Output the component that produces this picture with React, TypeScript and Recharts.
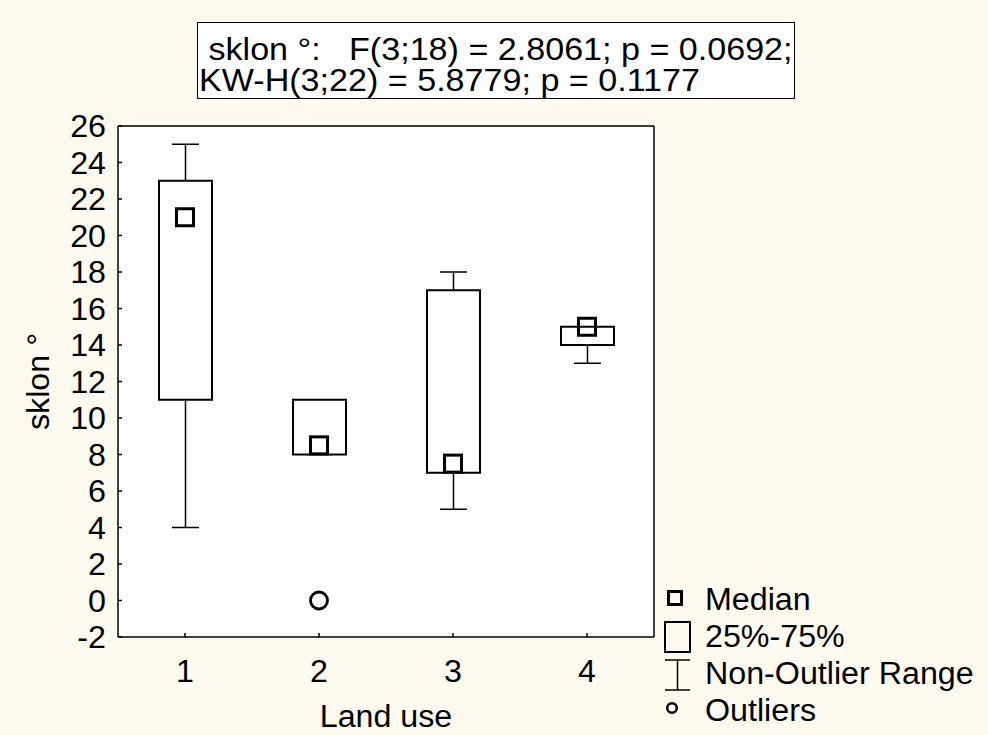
import React from 'react';
import { ComposedChart, Bar, Scatter, XAxis, YAxis, CartesianGrid, Legend } from 'recharts';

const categories = ['1', '2', '3', '4'];
const nonOutlierMin = [4, 8, 5, 13];
const nonOutlierMax = [25, 11, 18, 15];
const q25 = [11, 8, 7, 14];
const q75 = [23, 11, 17, 15];
const medians = [21, 8.5, 7.5, 15];
const outliers: (number | null)[] = [null, 0, null, null];
const yTicks = [-2, 0, 2, 4, 6, 8, 10, 12, 14, 16, 18, 20, 22, 24, 26];
const titleLines = [' sklon °:   F(3;18) = 2.8061; p = 0.0692;', 'KW-H(3;22) = 5.8779; p = 0.1177'];
const legendItems = ['Median', '25%-75%', 'Non-Outlier Range', 'Outliers'];
const xTitle = 'Land use';
const yTitle = 'sklon °';

const data = categories.map((name, i) => ({
  name,
  whisker: [nonOutlierMin[i], nonOutlierMax[i]],
  box: [q25[i], q75[i]],
  median: medians[i],
  outlier: outliers[i],
}));

const FONT = '"Liberation Sans", Arial, sans-serif';
const BG = '#FFFAF0';
const SX = 1.04;
const FS = 31;

const StretchText = ({ x, y, anchor = 'start', dy = 0, size = FS, sx = SX, children }: any) => (
  <text
    transform={`translate(${x} ${y}) scale(${sx} 1)`}
    x={0}
    y={0}
    dy={dy}
    textAnchor={anchor}
    fill="#000"
    fontSize={size}
    fontFamily={FONT}
    style={{ whiteSpace: 'pre' }}
  >
    {children}
  </text>
);

const WhiskerShape = (p: any) => {
  const { x, y, width, height } = p;
  if (x == null || y == null) return <g />;
  const cx = x + width / 2;
  const top = Math.min(y, y + height);
  const bot = Math.max(y, y + height);
  return (
    <g>
      <line x1={cx} x2={cx} y1={top} y2={bot} stroke="#000" strokeWidth={1.5} />
      <line x1={x} x2={x + width} y1={top} y2={top} stroke="#000" strokeWidth={1.5} />
      <line x1={x} x2={x + width} y1={bot} y2={bot} stroke="#000" strokeWidth={1.5} />
    </g>
  );
};

const BoxShape = (p: any) => {
  const { x, y, width, height } = p;
  if (x == null || y == null) return <g />;
  const top = Math.min(y, y + height);
  const h = Math.abs(height);
  return <rect x={x} y={top} width={width} height={h} fill="#fff" stroke="#000" strokeWidth={2} />;
};

const MedianShape = (p: any) => {
  if (p.payload == null || p.payload.median == null || p.cy == null) return <g />;
  return <rect x={p.cx - 8.5} y={p.cy - 8.5} width={17} height={17} fill="none" stroke="#000" strokeWidth={3} />;
};

const OutlierShape = (p: any) => {
  if (p.payload == null || p.payload.outlier == null || p.cy == null) return <g />;
  return <circle cx={p.cx} cy={p.cy} r={8.5} fill="none" stroke="#000" strokeWidth={2.8} />;
};

const XTick = (p: any) => (
  <StretchText x={p.x} y={p.y} anchor="middle" dy="0.71em">
    {p.payload && p.payload.value}
  </StretchText>
);

const YTick = (p: any) => (
  <StretchText x={p.x} y={p.y} anchor="end" dy="0.355em">
    {p.payload && p.payload.value}
  </StretchText>
);

const renderXLabel = (props: any) => {
  const vb = props.viewBox || {};
  return (
    <StretchText x={vb.x + vb.width / 2} y={vb.y + 90} anchor="middle">
      {xTitle}
    </StretchText>
  );
};

const renderYLabel = (props: any) => {
  const vb = props.viewBox || {};
  const cx = vb.x + 38;
  const cy = vb.y + vb.height / 2;
  return (
    <text
      transform={`translate(${cx} ${cy}) rotate(-90) scale(${SX} 1)`}
      x={0}
      y={0}
      textAnchor="middle"
      dominantBaseline="central"
      fill="#000"
      fontSize={FS}
      fontFamily={FONT}
    >
      {yTitle}
    </text>
  );
};

const renderLegend = () => {
  const textX = 50;
  const baselines = [32, 69, 106, 143];
  return (
    <svg width={333} height={160} style={{ display: 'block' }}>
      <rect x={13.5} y={13.5} width={13} height={13} fill="none" stroke="#000" strokeWidth={3} />
      <rect x={10} y={44} width={25} height={30} fill="none" stroke="#000" strokeWidth={2} />
      <line x1={10} x2={35} y1={82} y2={82} stroke="#000" strokeWidth={1.5} />
      <line x1={22.5} x2={22.5} y1={82} y2={112} stroke="#000" strokeWidth={1.5} />
      <line x1={10} x2={35} y1={112} y2={112} stroke="#000" strokeWidth={1.5} />
      <circle cx={17} cy={130} r={4.8} fill="none" stroke="#000" strokeWidth={2.5} />
      {legendItems.map((t, i) => (
        <StretchText key={t} x={textX} y={baselines[i]}>
          {t}
        </StretchText>
      ))}
    </svg>
  );
};

const lineStyle = { stroke: '#000', strokeWidth: 1.5 };

export default function App() {
  return (
    <div style={{ position: 'absolute', left: 0, top: 0, width: 988, height: 735, background: BG, fontFamily: FONT, overflow: 'hidden' }}>
      <ComposedChart width={988} height={735} data={data} margin={{ top: 125, right: 333, bottom: 0, left: 0 }}>
        <CartesianGrid xAxisId="main" yAxisId="left" fill="#fff" stroke="none" horizontal={false} vertical={false} />
        <XAxis xAxisId="main" dataKey="name" height={98} interval={0} tickSize={-4} tickMargin={27} tickLine={lineStyle} axisLine={lineStyle} tick={XTick} label={renderXLabel} />
        <XAxis xAxisId="top" orientation="top" dataKey="name" height={1} interval={0} tickSize={-4} tick={false} tickLine={lineStyle} axisLine={lineStyle} />
        <XAxis xAxisId="whisk" dataKey="name" hide />
        <YAxis yAxisId="left" width={118} type="number" domain={[-2, 26]} ticks={yTicks} interval={0} allowDataOverflow tickSize={-4} tickMargin={16} tickLine={lineStyle} axisLine={lineStyle} tick={YTick} label={renderYLabel} />
        <YAxis yAxisId="right" orientation="right" width={1} type="number" domain={[-2, 26]} ticks={yTicks} interval={0} allowDataOverflow tickSize={-4} tick={false} tickLine={lineStyle} axisLine={lineStyle} />
        <Bar xAxisId="whisk" yAxisId="left" dataKey="whisker" barSize={27} shape={WhiskerShape} isAnimationActive={false} />
        <Bar xAxisId="main" yAxisId="left" dataKey="box" barSize={53} shape={BoxShape} isAnimationActive={false} />
        <Scatter xAxisId="main" yAxisId="left" dataKey="median" shape={MedianShape} isAnimationActive={false} />
        <Scatter xAxisId="main" yAxisId="left" dataKey="outlier" shape={OutlierShape} isAnimationActive={false} />
        <Legend content={renderLegend} layout="horizontal" verticalAlign="middle" align="center" wrapperStyle={{ position: 'absolute', left: 655, top: 578, width: 333, height: 160 }} />
      </ComposedChart>
      <div style={{ position: 'absolute', left: 197, top: 22, width: 598, height: 77, border: '1.5px solid #000', background: '#fff', overflow: 'hidden', boxSizing: 'border-box' }}>
        <svg width={598} height={77} style={{ display: 'block' }}>
          <StretchText x={1} y={37} size={31} sx={1.1}>
            {titleLines[0]}
          </StretchText>
          <StretchText x={1} y={68} size={31} sx={1.1}>
            {titleLines[1]}
          </StretchText>
        </svg>
      </div>
    </div>
  );
}
